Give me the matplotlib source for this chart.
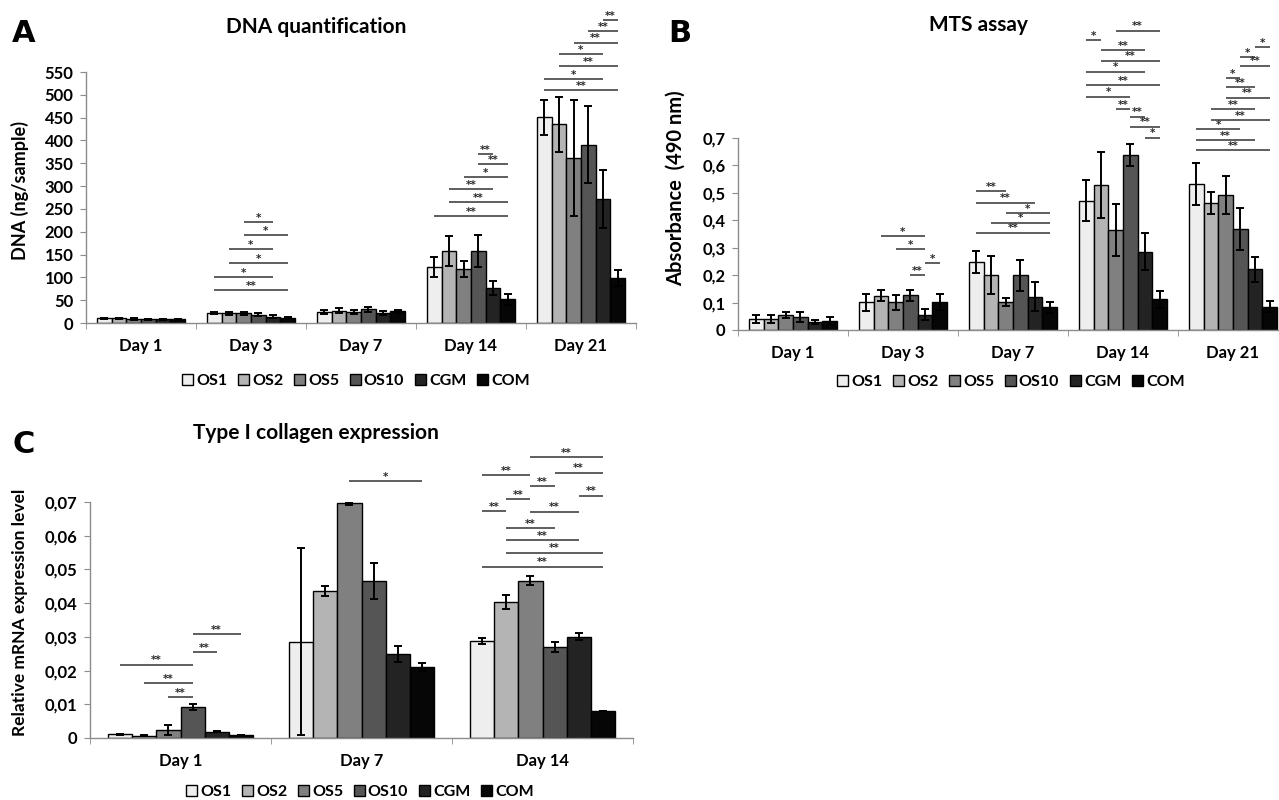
import numpy as np
import matplotlib
matplotlib.use('Agg')
import matplotlib.pyplot as plt
from matplotlib.patches import Patch

plt.rcParams['font.family'] = ['Lato', 'DejaVu Sans']

W, H = 1279, 800

series = ['OS1', 'OS2', 'OS5', 'OS10', 'CGM', 'COM']
bar_colors = ['#eeeeee', '#b4b4b4', '#808080', '#555555', '#232323', '#060606']

# ---------------- Panel A: DNA quantification ----------------
dna_days = ['Day 1', 'Day 3', 'Day 7', 'Day 14', 'Day 21']
dna_mean = [
    [10, 22, 24, 123, 451],   # OS1
    [10, 21, 27, 158, 435],   # OS2
    [9, 21, 24, 118, 362],    # OS5
    [8, 18, 30, 158, 391],    # OS10
    [8, 14, 22, 77, 272],     # CGM
    [8, 12, 26, 52, 99],      # COM
]
dna_err = [
    [2, 3, 5, 22, 38],
    [2, 3, 5, 33, 61],
    [2, 4, 4, 17, 127],
    [1, 3, 5, 35, 85],
    [1, 3, 5, 15, 63],
    [1, 2, 3, 12, 17],
]
dna_yticks = [0, 50, 100, 150, 200, 250, 300, 350, 400, 450, 500, 550]
dna_yticklabels = ['0', '50', '100', '150', '200', '250', '300', '350', '400', '450', '500', '550']
# (day index, first bar, second bar, height, label)
dna_sig = [
    (1, 2, 4, 221, '*'), (1, 2, 5, 193, '*'), (1, 1, 4, 162, '*'),
    (1, 1, 5, 131, '*'), (1, 0, 4, 101, '*'), (1, 0, 5, 72, '**'),
    (3, 3, 4, 370, '**'), (3, 3, 5, 348, '**'), (3, 2, 5, 320, '*'),
    (3, 1, 4, 293, '**'), (3, 1, 5, 265, '**'), (3, 0, 5, 234, '**'),
    (4, 4, 5, 664, '**'), (4, 3, 5, 640, '**'), (4, 2, 5, 614, '**'),
    (4, 1, 4, 589, '*'), (4, 1, 5, 563, '**'), (4, 0, 4, 535, '*'),
    (4, 0, 5, 510, '**'),
]

# ---------------- Panel B: MTS assay ----------------
mts_days = ['Day 1', 'Day 3', 'Day 7', 'Day 14', 'Day 21']
mts_mean = [
    [0.040, 0.101, 0.249, 0.471, 0.532],
    [0.040, 0.125, 0.200, 0.529, 0.462],
    [0.055, 0.101, 0.103, 0.365, 0.492],
    [0.048, 0.126, 0.200, 0.638, 0.369],
    [0.030, 0.055, 0.121, 0.285, 0.221],
    [0.033, 0.103, 0.083, 0.112, 0.085],
]
mts_err = [
    [0.015, 0.030, 0.040, 0.075, 0.078],
    [0.015, 0.020, 0.070, 0.120, 0.040],
    [0.010, 0.028, 0.015, 0.095, 0.070],
    [0.018, 0.020, 0.057, 0.040, 0.077],
    [0.008, 0.020, 0.053, 0.067, 0.046],
    [0.015, 0.030, 0.020, 0.031, 0.020],
]
mts_yticks = [0, 0.1, 0.2, 0.3, 0.4, 0.5, 0.6, 0.7]
mts_yticklabels = ['0', '0,1', '0,2', '0,3', '0,4', '0,5', '0,6', '0,7']
mts_sig = [
    (1, 1, 4, 0.343, '*'), (1, 2, 4, 0.295, '*'), (1, 3, 4, 0.200, '**'), (1, 4, 5, 0.243, '*'),
    (2, 0, 2, 0.506, '**'), (2, 0, 4, 0.464, '**'), (2, 2, 5, 0.425, '*'),
    (2, 1, 5, 0.391, '*'), (2, 0, 5, 0.355, '**'),
    (3, 2, 5, 1.091, '**'), (3, 0, 1, 1.057, '*'), (3, 1, 4, 1.021, '**'),
    (3, 1, 5, 0.982, '**'), (3, 0, 4, 0.942, '*'), (3, 0, 5, 0.893, '**'),
    (3, 0, 3, 0.851, '*'), (3, 2, 3, 0.805, '**'), (3, 3, 4, 0.778, '**'),
    (3, 3, 5, 0.741, '**'), (3, 4, 5, 0.701, '*'),
    (4, 4, 5, 1.031, '*'), (4, 3, 4, 0.996, '*'), (4, 3, 5, 0.964, '**'),
    (4, 2, 3, 0.918, '*'), (4, 2, 4, 0.885, '**'), (4, 2, 5, 0.847, '**'),
    (4, 1, 4, 0.806, '**'), (4, 1, 5, 0.766, '**'), (4, 0, 3, 0.733, '*'),
    (4, 0, 4, 0.693, '**'), (4, 0, 5, 0.656, '**'),
]

# ---------------- Panel C: Type I collagen expression ----------------
col_days = ['Day 1', 'Day 7', 'Day 14']
col_mean = [
    [0.0011, 0.0286, 0.0288],
    [0.0007, 0.0436, 0.0404],
    [0.0024, 0.0696, 0.0467],
    [0.0091, 0.0466, 0.0269],
    [0.0019, 0.0249, 0.0301],
    [0.0009, 0.0210, 0.0080],
]
col_err = [
    [0.0001, 0.0277, 0.0008],
    [0.0001, 0.0015, 0.0021],
    [0.0014, 0.0005, 0.0014],
    [0.0009, 0.0053, 0.0015],
    [0.0002, 0.0025, 0.0009],
    [0.0001, 0.0012, 0.0001],
]
col_yticks = [0, 0.01, 0.02, 0.03, 0.04, 0.05, 0.06, 0.07]
col_yticklabels = ['0', '0,01', '0,02', '0,03', '0,04', '0,05', '0,06', '0,07']
col_sig = [
    (0, 3, 5, 0.0307, '**'), (0, 3, 4, 0.0255, '**'), (0, 0, 3, 0.0218, '**'),
    (0, 1, 3, 0.0162, '**'), (0, 2, 3, 0.0122, '**'),
    (1, 2, 5, 0.0762, '*'),
    (2, 2, 5, 0.0834, '**'), (2, 3, 5, 0.0787, '**'), (2, 0, 2, 0.0780, '**'),
    (2, 2, 3, 0.0748, '**'), (2, 4, 5, 0.0719, '**'), (2, 1, 2, 0.0708, '**'),
    (2, 0, 1, 0.0673, '**'), (2, 2, 4, 0.0671, '**'), (2, 1, 3, 0.0623, '**'),
    (2, 1, 4, 0.0587, '**'), (2, 1, 5, 0.0550, '**'), (2, 0, 5, 0.0508, '**'),
]

AXIS_GRAY = '#8c8c8c'
SIG_GRAY = '#5e5e5e'

fig = plt.figure(figsize=(W / 100, H / 100), dpi=100)


def px_rect(left, top, right, bottom):
    return [left / W, 1 - bottom / H, (right - left) / W, (bottom - top) / H]


def draw_panel(rect, days, means, errs, yticks, yticklabels, ylim, sig):
    ax = fig.add_axes(rect)
    ax.patch.set_alpha(0)
    n = len(series)
    w = 0.8 / n
    x = np.arange(len(days))
    for k in range(n):
        ax.bar(x + (k - (n - 1) / 2) * w, means[k], w, yerr=errs[k],
               color=bar_colors[k], edgecolor='black', linewidth=1.0,
               error_kw=dict(ecolor='black', elinewidth=1.4, capsize=2.6, capthick=1.4),
               zorder=2)
    for d, i, j, h, lab in sig:
        xi = d + (i - (n - 1) / 2) * w
        xj = d + (j - (n - 1) / 2) * w
        ax.plot([xi, xj], [h, h], color=SIG_GRAY, lw=1.4, clip_on=False,
                solid_capstyle='butt', zorder=3)
        ax.annotate(lab, ((xi + xj) / 2, h), xytext=(0, -0.5), textcoords='offset points',
                    ha='center', va='bottom', fontsize=7.5, color='#2a2a2a',
                    family='DejaVu Sans', fontweight='bold', annotation_clip=False)
    ax.set_xlim(-0.5, len(days) - 0.5)
    ax.set_ylim(*ylim)
    for s in ['top', 'right']:
        ax.spines[s].set_visible(False)
    for s in ['left', 'bottom']:
        ax.spines[s].set_color(AXIS_GRAY)
        ax.spines[s].set_linewidth(1.0)
    ax.set_xticks(x)
    ax.set_xticklabels(days, fontweight='bold', fontsize=12)
    ax.set_xticks(np.arange(len(days) + 1) - 0.5, minor=True)
    ax.tick_params(axis='x', which='major', length=0, pad=11)
    ax.tick_params(axis='x', which='minor', length=4, color=AXIS_GRAY, direction='out')
    ax.set_yticks(yticks)
    ax.set_yticklabels(yticklabels, fontweight='bold', fontsize=12)
    ax.tick_params(axis='y', length=4, color=AXIS_GRAY, pad=5)
    return ax


axA = draw_panel(px_rect(86, 72, 636, 323), dna_days, dna_mean, dna_err,
                 dna_yticks, dna_yticklabels, (0, 550), dna_sig)
axB = draw_panel(px_rect(738, 138, 1288, 330), mts_days, mts_mean, mts_err,
                 mts_yticks, mts_yticklabels, (0, 0.7), mts_sig)
axC = draw_panel(px_rect(90, 502, 633, 738), col_days, col_mean, col_err,
                 col_yticks, col_yticklabels, (0, 0.07), col_sig)

# titles
fig.text(316 / W, 1 - 27 / H, 'DNA quantification', ha='center', va='center',
         fontsize=15, fontweight='bold')
fig.text(978 / W, 1 - 25 / H, 'MTS assay', ha='center', va='center',
         fontsize=15, fontweight='bold')
fig.text(316 / W, 1 - 433 / H, 'Type I collagen expression', ha='center', va='center',
         fontsize=15, fontweight='bold')

# panel letters
for lx, ly, letter in [(12, 34, 'A'), (668, 34, 'B'), (12, 444, 'C')]:
    fig.text(lx / W, 1 - ly / H, letter, ha='left', va='center', fontsize=22,
             fontweight='bold', family='DejaVu Sans')

# y labels
fig.text(20 / W, 1 - 190 / H, 'DNA (ng/sample)', rotation=90, ha='center', va='center',
         fontsize=13, fontweight='bold')
fig.text(676 / W, 1 - 188 / H, 'Absorbance  (490 nm)', rotation=90, ha='center', va='center',
         fontsize=14.5, fontweight='bold')
fig.text(20 / W, 1 - 612 / H, 'Relative mRNA expression level', rotation=90, ha='center',
         va='center', fontsize=12.5, fontweight='bold')

# legends
handles = [Patch(facecolor=c, edgecolor='black', linewidth=1.0) for c in bar_colors]
for cx, cy in [(356, 381), (1011, 382), (360, 792)]:
    fig.legend(handles, series, loc='center', bbox_to_anchor=(cx / W, 1 - cy / H), ncol=6,
               frameon=False, handlelength=0.65, handleheight=0.65, handletextpad=0.2,
               columnspacing=0.7, borderaxespad=0, borderpad=0,
               prop={'weight': 'bold', 'size': 11.5})

fig.savefig('out.png', dpi=100)
